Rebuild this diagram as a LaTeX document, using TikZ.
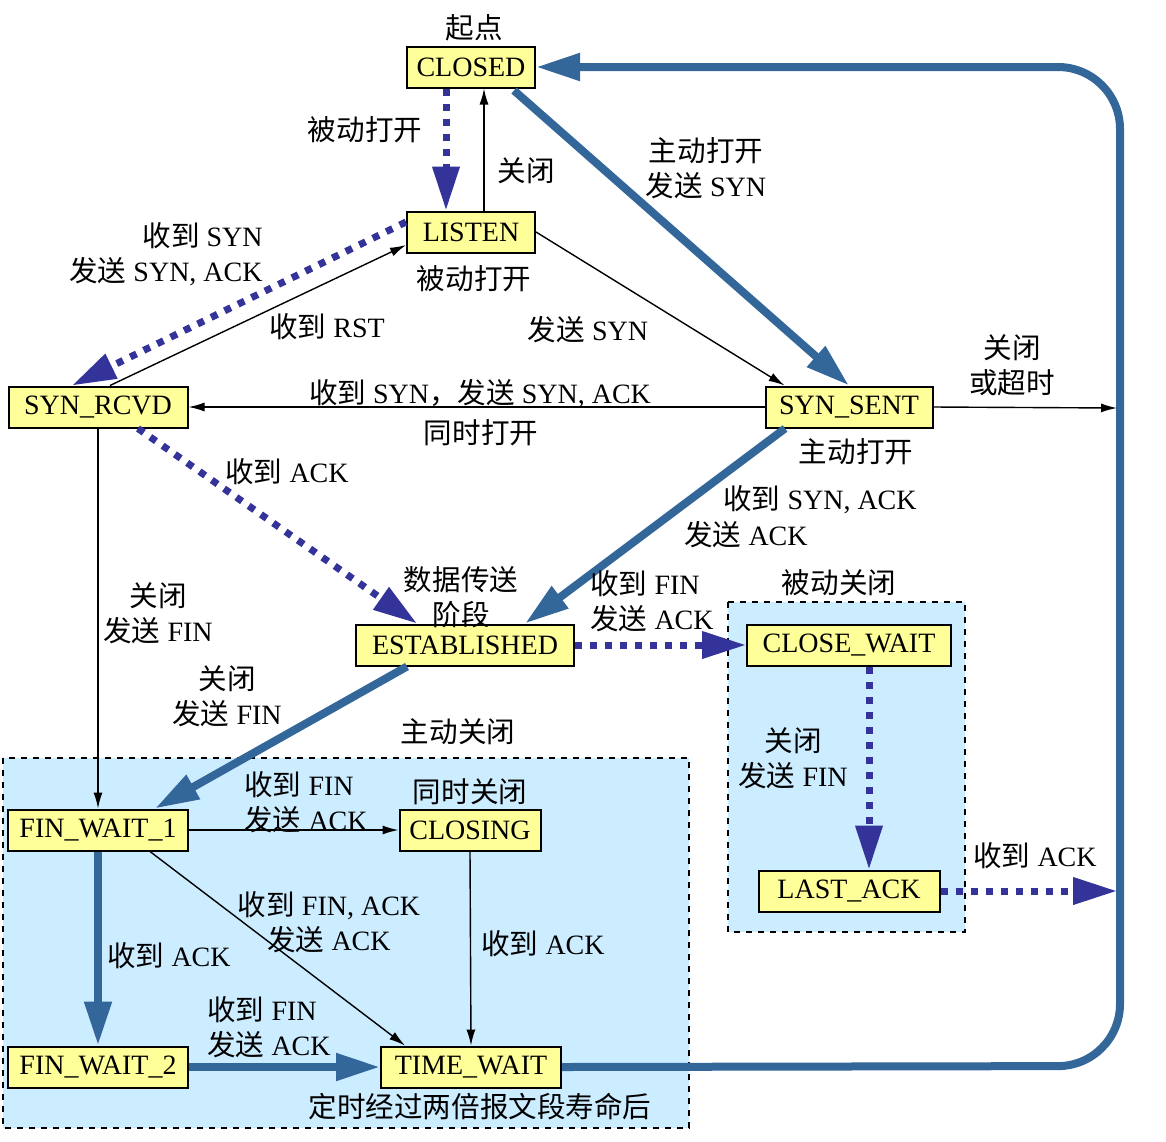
\documentclass[tikz,border=0pt]{standalone}
\usepackage{fontspec}
\setmainfont{Liberation Serif}
\newfontfamily\cjk[Scale=1.02]{Noto Sans CJK SC}
\usepackage{tikz}
\usetikzlibrary{arrows.meta}
\definecolor{flow}{RGB}{51,51,153}
\definecolor{steel}{RGB}{51,102,153}
\definecolor{boxfill}{RGB}{255,255,153}
\definecolor{zonefill}{RGB}{204,236,255}

\begin{document}
\begin{tikzpicture}[x=0.5pt,y=-0.5pt,
    font=\fontsize{14}{17.5}\selectfont,
    state/.style={rectangle,draw,line width=1pt,fill=boxfill,minimum height=20.5pt,inner sep=2pt},
    lbl/.style={inner sep=0pt,align=center},
    zone/.style={draw,dashed,fill=zonefill,line width=0.7pt},
    thin/.style={-{Latex[length=8pt,width=4.5pt]},line width=0.7pt},
    main/.style={-{Triangle[length=22pt,width=13pt]},steel,line width=4pt},
    dots/.style={-{Triangle[length=22pt,width=13pt]},flow,line width=3.5pt,dash pattern=on 3.5pt off 4pt}]

    \useasboundingbox (0,0) rectangle (1166,1141);

    % closing zones
    \draw[zone] (3,758) rectangle (689,1128);
    \draw[zone] (728,602) rectangle (965,932);

    % states
    \node[state,minimum width=64pt] (closed) at (471,67) {CLOSED};
    \node[state,minimum width=64pt] (listen) at (471,232) {LISTEN};
    \node[state,minimum width=89.5pt] (synrcvd) at (98,407) {SYN\_RCVD};
    \node[state,minimum width=83.5pt] (synsent) at (849,407) {SYN\_SENT};
    \node[state,minimum width=109pt] (established) at (465,645) {ESTABLISHED};
    \node[state,minimum width=102pt] (closewait) at (849,645) {CLOSE\_WAIT};
    \node[state,minimum width=90.5pt] (lastack) at (849,891) {LAST\_ACK};
    \node[state,minimum width=90pt] (finwait1) at (98,830) {FIN\_WAIT\_1};
    \node[state,minimum width=70.5pt] (closing) at (470,830) {CLOSING};
    \node[state,minimum width=90pt] (finwait2) at (98,1067) {FIN\_WAIT\_2};
    \node[state,minimum width=90pt] (timewait) at (471,1067) {TIME\_WAIT};

    \coordinate (br) at (1120,1066);
    \coordinate (tr) at (1120,67);
    \coordinate (timeout) at (1117,408);
    \coordinate (lastend) at (1117,891);

    % transitions
    \draw[dots] ([xshift=-12.5pt]closed.south) -- ([xshift=-12.5pt]listen.north);
    \draw[thin] ([xshift=6.5pt]listen.north) -- ([xshift=6.5pt]closed.south);
    \draw[main] ([xshift=-11pt,yshift=-1pt]closed.south east) -- (synsent.north);
    \draw[main,rounded corners=31pt] (timewait.east) -- (br) -- (tr) -- (closed.east);
    \draw[thin] (synsent.east) -- (timeout);
    \draw[thin] (listen.east) -- ([xshift=10pt]synsent.north west);
    \draw[dots] ([yshift=5pt]listen.west) -- ([xshift=-13pt]synrcvd.north);
    \draw[thin] ([xshift=6pt]synrcvd.north) -- ([yshift=-6.5pt]listen.west);
    \draw[thin] (synsent.west) -- (synrcvd.east);
    \draw[dots] ([xshift=20pt]synrcvd.south) -- ([xshift=-24pt]established.north);
    \draw[main] ([xshift=-32pt]synsent.south) -- ([xshift=30pt]established.north);
    \draw[thin] (synrcvd.south) -- (finwait1.north);
    \draw[dots] (established.east) -- (closewait.west);
    \draw[main] ([xshift=-29pt]established.south) -- ([xshift=28.5pt]finwait1.north);
    \draw[dots] ([xshift=10pt]closewait.south) -- ([xshift=10pt]lastack.north);
    \draw[dots] (lastack.east) -- (lastend);
    \draw[thin] (finwait1.east) -- (closing.west);
    \draw[thin] ([xshift=26pt]finwait1.south) -- ([xshift=-33pt]timewait.north);
    \draw[main] (finwait1.south) -- (finwait2.north);
    \draw[thin] (closing.south) -- (timewait.north);
    \draw[main] (finwait2.east) -- (timewait.west);

    % labels
    \node[lbl] (start) at (474,28) {\cjk 起点};
    \node[lbl] (passopen) at (365,130) {\cjk 被动打开};
    \node[lbl] (lclose) at (526,171) {\cjk 关闭};
    \node[lbl] (actopen) at (706,168) {{\cjk 主动打开}\\{\cjk 发送} SYN};
    \node[lbl,align=right,anchor=east] (rcvsyn) at (263,254) {{\cjk 收到} SYN\\{\cjk 发送} SYN, ACK};
    \node[lbl] (passopen2) at (474,279) {\cjk 被动打开};
    \node[lbl] (rst) at (327,327) {{\cjk 收到} RST};
    \node[lbl] (sendsyn) at (588,330) {{\cjk 发送} SYN};
    \node[lbl] (timeoutlbl) at (1012,365) {{\cjk 关闭}\\{\cjk 或超时}};
    \node[lbl] (simsyn) at (480,394) {{\cjk 收到} SYN{\cjk ，发送} SYN, ACK};
    \node[lbl] (simopen) at (481,433) {\cjk 同时打开};
    \node[lbl] (actopen2) at (856,452) {\cjk 主动打开};
    \node[lbl] (rcvack1) at (287,472) {{\cjk 收到} ACK};
    \node[lbl] (rcvsynack) at (820,500) {{\cjk 收到} SYN, ACK};
    \node[lbl] (sendack1) at (746,535) {{\cjk 发送} ACK};
    \node[lbl] (data) at (461,597) {{\cjk 数据传送}\\{\cjk 阶段}};
    \node[lbl,align=left,anchor=west] (rcvfin1) at (590,601) {{\cjk 收到} FIN\\{\cjk 发送} ACK};
    \node[lbl] (passclose) at (839,583) {\cjk 被动关闭};
    \node[lbl] (closefin1) at (158,613) {{\cjk 关闭}\\{\cjk 发送} FIN};
    \node[lbl] (closefin2) at (227,696) {{\cjk 关闭}\\{\cjk 发送} FIN};
    \node[lbl] (actclose) at (458,732) {\cjk 主动关闭};
    \node[lbl,align=left,anchor=west] (rcvfin2) at (244,802) {{\cjk 收到} FIN\\{\cjk 发送} ACK};
    \node[lbl] (simclose) at (470,792) {\cjk 同时关闭};
    \node[lbl] (closefin3) at (793,758) {{\cjk 关闭}\\{\cjk 发送} FIN};
    \node[lbl] (rcvack2) at (1035,856) {{\cjk 收到} ACK};
    \node[lbl] (rcvfinack) at (329,922) {{\cjk 收到} FIN, ACK\\{\cjk 发送} ACK};
    \node[lbl] (rcvack3) at (169,956) {{\cjk 收到} ACK};
    \node[lbl] (rcvack4) at (543,944) {{\cjk 收到} ACK};
    \node[lbl,align=left,anchor=west] (rcvfin3) at (207,1027) {{\cjk 收到} FIN\\{\cjk 发送} ACK};
    \node[lbl] (msl) at (480,1107) {\cjk 定时经过两倍报文段寿命后};
\end{tikzpicture}
\end{document}
